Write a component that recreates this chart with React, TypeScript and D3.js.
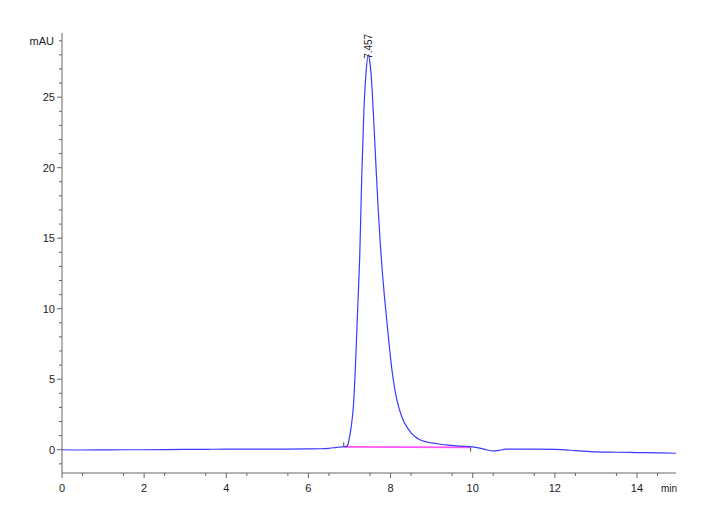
import React from "react";
import * as d3 from "d3";

const times = [0, 0.5, 1, 1.5, 2, 2.5, 3, 3.5, 4, 4.5, 5, 5.5, 6, 6.3, 6.5, 6.7, 6.8, 6.9, 6.95, 7.0, 7.05, 7.1, 7.15, 7.2, 7.25, 7.3, 7.35, 7.4, 7.457, 7.5, 7.55, 7.6, 7.65, 7.7, 7.75, 7.8, 7.85, 7.9, 7.95, 8.0, 8.05, 8.1, 8.15, 8.2, 8.3, 8.4, 8.5, 8.6, 8.7, 8.85, 9.0, 9.2, 9.4, 9.7, 10.0, 10.2, 10.35, 10.5, 10.65, 10.8, 11.0, 11.5, 12.0, 12.5, 13.0, 13.5, 14.0, 14.5, 14.95];
const signal = [0.0, -0.02, -0.01, 0.0, 0.0, 0.01, 0.02, 0.03, 0.04, 0.04, 0.05, 0.05, 0.06, 0.07, 0.1, 0.17, 0.2, 0.22, 0.3, 0.9, 1.8, 3.3, 6.3, 10.0, 13.8, 19.5, 24.0, 26.6, 28.0, 27.4, 25.6, 22.8, 19.8, 17.0, 14.6, 12.6, 10.9, 9.4, 7.9, 6.5, 5.3, 4.35, 3.6, 3.0, 2.15, 1.6, 1.2, 0.92, 0.73, 0.57, 0.48, 0.39, 0.32, 0.26, 0.2, 0.1, -0.02, -0.08, -0.04, 0.04, 0.05, 0.05, 0.02, -0.06, -0.15, -0.18, -0.2, -0.22, -0.25];

const baselineTimes = [6.88, 9.95];
const baselineValues = [0.2, 0.17];

const peakTime = 7.457;
const peakHeight = 28.0;
const peakLabel = "7.457";

const markerTimes = [6.86, 9.95];
const markerFrom = [0.25, -0.12];
const markerTo = [0.52, 0.15];

const yMajorTicks = [0, 5, 10, 15, 20, 25];
const xMajorTicks = [0, 2, 4, 6, 8, 10, 12, 14];

const W = 720;
const H = 528;
const left = 62;
const right = 676;
const top = 33;
const bottom = 473;

export default function App() {
  const x = d3.scaleLinear().domain([0, 14.95]).range([left, right]);
  const y = d3.scaleLinear().domain([-1.65, 29.55]).range([bottom, top]);

  const pts = times.map((t, i) => [t, signal[i]] as [number, number]);
  const line = d3
    .line<[number, number]>()
    .x((d) => x(d[0]))
    .y((d) => y(d[1]))
    .curve(d3.curveMonotoneX);

  const yMinor = d3.range(-1, 30, 1).filter((v) => v % 5 !== 0 && v !== 29);
  const xMinor = d3.range(0.5, 15, 1);

  const axisColor = "#666";
  const textColor = "#222";
  const font = "'Liberation Sans', Arial, sans-serif";

  return (
    <div style={{ position: "fixed", left: 0, top: 0 }}>
      <svg width={W} height={H} style={{ display: "block", background: "#fff" }}>
        <line
          x1={x(baselineTimes[0])}
          y1={y(baselineValues[0])}
          x2={x(baselineTimes[1])}
          y2={y(baselineValues[1])}
          stroke="#ff55ff"
          strokeWidth={1.6}
        />
        <path d={line(pts) || ""} fill="none" stroke="#3a3aff" strokeWidth={1.2} />
        {markerTimes.map((t, i) => (
          <line
            key={"m" + i}
            x1={x(t)}
            x2={x(t)}
            y1={y(markerFrom[i])}
            y2={y(markerTo[i])}
            stroke="#444"
            strokeWidth={1}
          />
        ))}
        <text
          transform={`translate(${x(peakTime) + 3.5},${y(peakHeight) + 4}) rotate(-90)`}
          fontFamily={font}
          fontSize={10}
          fill={textColor}
          textAnchor="start"
        >
          {peakLabel}
        </text>

        <line x1={left} x2={left} y1={top} y2={bottom} stroke={axisColor} strokeWidth={1} />
        {yMajorTicks.map((v) => (
          <g key={"ym" + v}>
            <line x1={left - 5} x2={left} y1={y(v)} y2={y(v)} stroke={axisColor} />
            <text
              x={left - 7}
              y={y(v)}
              dy="0.35em"
              textAnchor="end"
              fontFamily={font}
              fontSize={11}
              fill={textColor}
            >
              {v}
            </text>
          </g>
        ))}
        {yMinor.map((v) => (
          <line key={"yn" + v} x1={left - 3} x2={left} y1={y(v)} y2={y(v)} stroke={axisColor} />
        ))}
        <line x1={left - 3} x2={left} y1={y(29)} y2={y(29)} stroke={axisColor} />
        <text
          x={left - 8}
          y={y(29)}
          dy="0.35em"
          textAnchor="end"
          fontFamily={font}
          fontSize={11}
          fill={textColor}
        >
          mAU
        </text>

        <line x1={left} x2={right} y1={bottom} y2={bottom} stroke={axisColor} strokeWidth={1} />
        {xMajorTicks.map((t) => (
          <g key={"xm" + t}>
            <line x1={x(t)} x2={x(t)} y1={bottom} y2={bottom + 5} stroke={axisColor} />
            <text
              x={x(t)}
              y={bottom + 19}
              textAnchor="middle"
              fontFamily={font}
              fontSize={11}
              fill={textColor}
            >
              {t}
            </text>
          </g>
        ))}
        {xMinor.map((t) => (
          <line key={"xn" + t} x1={x(t)} x2={x(t)} y1={bottom} y2={bottom + 3} stroke={axisColor} />
        ))}
        <text
          x={x(14.95) - 7}
          y={bottom + 19}
          textAnchor="middle"
          fontFamily={font}
          fontSize={10}
          fill={textColor}
        >
          min
        </text>
      </svg>
    </div>
  );
}
